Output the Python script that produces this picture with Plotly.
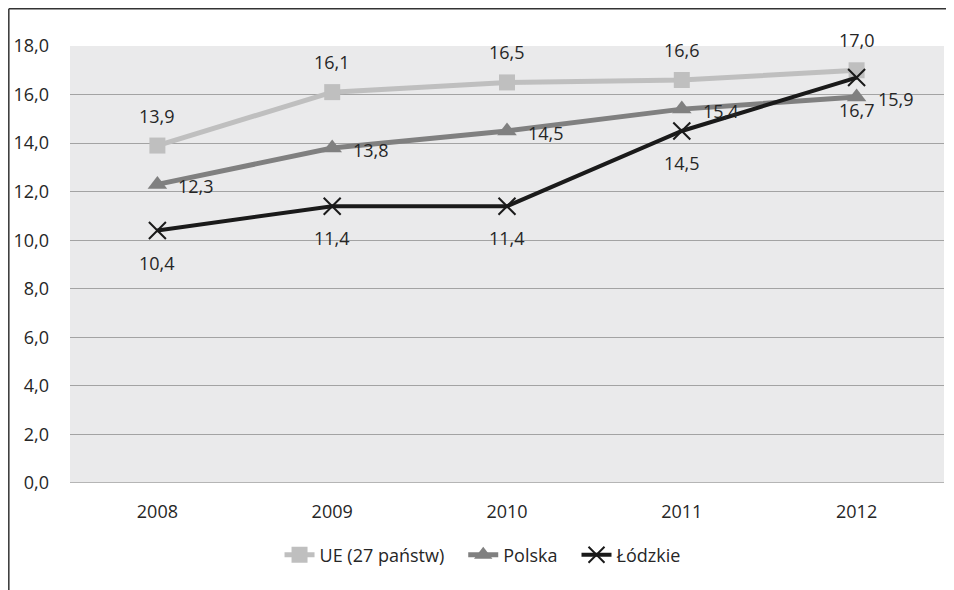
import plotly.graph_objects as go

years = ["2008", "2009", "2010", "2011", "2012"]
ue = [13.9, 16.1, 16.5, 16.6, 17.0]
polska = [12.3, 13.8, 14.5, 15.4, 15.9]
lodzkie = [10.4, 11.4, 11.4, 14.5, 16.7]
series_names = ["UE (27 państw)", "Polska", "Łódzkie"]

def fmt(v):
    return f"{v:.1f}".replace(".", ",")

LABEL_FONT = dict(family="Open Sans", size=18, color="#262626")
PAD = "\u00a0\u00a0\u00a0"

fig = go.Figure()
fig.add_trace(go.Scatter(
    x=years, y=ue, name=series_names[0] + PAD, mode="lines+markers",
    line=dict(color="#bfbfbf", width=5),
    marker=dict(symbol="square", size=16, color="#bfbfbf"),
))
fig.add_trace(go.Scatter(
    x=years, y=polska, name=series_names[1] + PAD, mode="lines+markers",
    line=dict(color="#808080", width=5),
    marker=dict(symbol="triangle-up", size=17, color="#808080"),
))
fig.add_trace(go.Scatter(
    x=years, y=lodzkie, name=series_names[2], mode="lines+markers",
    line=dict(color="#1a1a1a", width=4),
    marker=dict(symbol="x-thin", size=17, color="#1a1a1a",
                line=dict(color="#1a1a1a", width=2)),
))

# category axis: annotation x given as category index
annotations = []
for i, v in enumerate(ue):
    annotations.append(dict(x=i, y=v, text=fmt(v), showarrow=False, yshift=30,
                            font=LABEL_FONT, xanchor="center", yanchor="middle"))
for i, v in enumerate(polska):
    annotations.append(dict(x=i, y=v, text=fmt(v), showarrow=False, xshift=19, yshift=-2,
                            font=LABEL_FONT, xanchor="left", yanchor="middle"))
for i, v in enumerate(lodzkie):
    annotations.append(dict(x=i, y=v, text=fmt(v), showarrow=False, yshift=-32,
                            font=LABEL_FONT, xanchor="center", yanchor="middle"))

fig.update_layout(
    width=954, height=590,
    margin=dict(l=62, r=18, t=38, b=115),
    paper_bgcolor="white", plot_bgcolor="#eaeaeb",
    separators=",.",
    showlegend=True,
    legend=dict(orientation="h", x=0.472, xanchor="center", y=-0.165, yanchor="middle",
                font=dict(family="Open Sans", size=18, color="#262626"),
                traceorder="normal", itemwidth=30, tracegroupgap=0),
    xaxis=dict(type="category", range=[-0.5, 4.5], showgrid=False, automargin=False,
               showline=False, ticks="", zeroline=False, ticklabelstandoff=16,
               tickfont=dict(family="Open Sans", size=18, color="#262626")),
    yaxis=dict(range=[0, 18], dtick=2, tickformat=".1f", showgrid=True, automargin=False,
               gridcolor="#a3a3a3", gridwidth=1.2, zeroline=False,
               showline=False, ticks="", ticklabelstandoff=20,
               tickfont=dict(family="Open Sans", size=18, color="#262626")),
    annotations=annotations,
    shapes=[
        dict(type="line", xref="paper", yref="paper", x0=-0.07, x1=1.03, y0=1.085, y1=1.085,
             line=dict(color="#333333", width=1.5)),
        dict(type="line", xref="paper", yref="paper", x0=-0.07, x1=-0.07, y0=1.085, y1=-0.3,
             line=dict(color="#333333", width=1.5)),
        dict(type="line", xref="paper", yref="y", x0=0, x1=1, y0=0, y1=0,
             line=dict(color="#a3a3a3", width=1.5)),
    ],
)

fig.write_html("out.html")
